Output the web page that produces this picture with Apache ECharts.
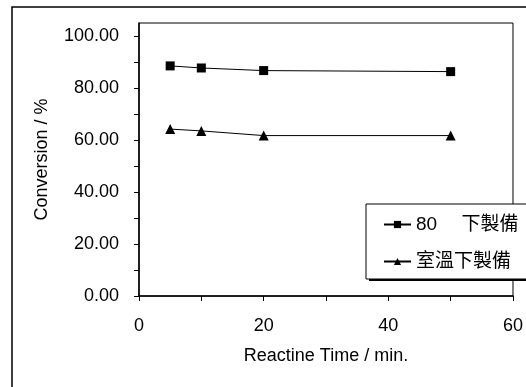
<!DOCTYPE html>
<html>
<head>
<meta charset="utf-8">
<script src="https://cdn.jsdelivr.net/npm/echarts@6/dist/echarts.min.js"></script>
<style>html,body{margin:0;padding:0;background:#fff}#c{width:526px;height:387px}</style>
</head>
<body>
<div id="c"></div>
<script>
var xValues = [5, 10, 20, 50];
var series80 = [88.5, 87.7, 86.7, 86.3];
var seriesRoom = [64.2, 63.5, 61.7, 61.7];
var seriesNames = ['80\u3000 下製備', '室溫下製備'];
var yTickValues = [0, 10, 20, 30, 40, 50, 60, 70, 80, 90, 100];
var yLabelValues = [0, 20, 40, 60, 80, 100];
var xLabelValues = [0, 20, 40, 60];

var FONT = "'Liberation Sans', Arial, 'Noto Sans CJK TC', sans-serif";
var chart = echarts.init(document.getElementById('c'), null, {renderer: 'canvas'});
function pairs(vals) { return xValues.map(function (x, i) { return [x, vals[i]]; }); }

chart.setOption({
  animation: false,
  backgroundColor: '#fff',
  textStyle: {fontFamily: FONT, color: '#000'},
  graphic: [{
    type: 'rect', silent: true, z: -10,
    shape: {x: 12, y: 7, width: 700, height: 600},
    style: {fill: '#fff', stroke: '#000', lineWidth: 1.5}
  }, {
    type: 'rect', silent: true, z: 3,
    shape: {x: 369, y: 208, width: 200, height: 73},
    style: {fill: '#000'}
  }],
  grid: {left: 139, right: 12, top: 23, bottom: 91, show: true, borderColor: '#000', borderWidth: 1, backgroundColor: 'transparent'},
  xAxis: {
    type: 'value', min: 0, max: 60, interval: 10,
    name: 'Reactine Time / min.', nameLocation: 'middle', nameGap: 51,
    nameTextStyle: {fontSize: 18, color: '#000', fontFamily: FONT},
    axisLine: {show: true, onZero: false, lineStyle: {color: '#000', width: 1.5}},
    axisTick: {show: true, length: 5, lineStyle: {color: '#000', width: 1}},
    axisLabel: {
      fontSize: 18, color: '#000', margin: 21, fontFamily: FONT,
      customValues: xLabelValues,
      formatter: function (v) { return String(v); }
    },
    splitLine: {show: false}
  },
  yAxis: {
    type: 'value', min: 0, max: 105,
    name: 'Conversion / %', nameLocation: 'middle', nameGap: 88,
    nameTextStyle: {fontSize: 18, color: '#000', fontFamily: FONT},
    axisLine: {show: true, onZero: false, lineStyle: {color: '#000', width: 1.5}},
    axisTick: {show: true, length: 5, customValues: yTickValues, lineStyle: {color: '#000', width: 1}},
    axisLabel: {
      fontSize: 18, color: '#000', margin: 20, fontFamily: FONT,
      customValues: yLabelValues,
      formatter: function (v) { return Number(v).toFixed(2); }
    },
    splitLine: {show: false}
  },
  legend: {
    orient: 'vertical', left: 366, top: 204,
    padding: [11, 24, 8, 17],
    itemWidth: 27, itemHeight: 9, itemGap: 18,
    backgroundColor: '#fff', borderColor: '#000', borderWidth: 1,
    textStyle: {fontSize: 19, color: '#000', fontFamily: FONT, padding: [0, 0, 0, 0]},
    data: seriesNames
  },
  series: [{
    name: seriesNames[0], type: 'line', data: pairs(series80),
    symbol: 'rect', symbolSize: 9,
    lineStyle: {color: '#000', width: 1},
    itemStyle: {color: '#000'}
  }, {
    name: seriesNames[1], type: 'line', data: pairs(seriesRoom),
    symbol: 'triangle', symbolSize: 10,
    lineStyle: {color: '#000', width: 1},
    itemStyle: {color: '#000'}
  }]
});
</script>
</body>
</html>
